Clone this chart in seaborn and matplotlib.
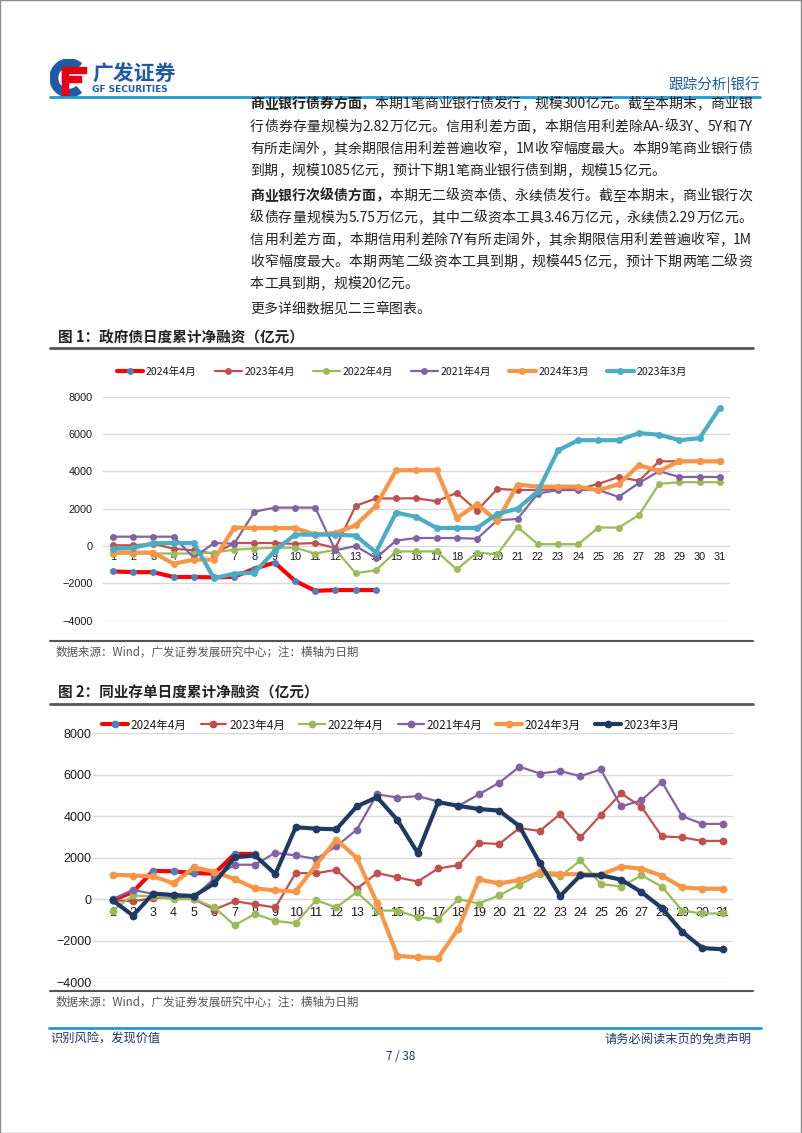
import re
import numpy as np
import pandas as pd
import seaborn as sns
import matplotlib.pyplot as plt
from matplotlib.lines import Line2D
from matplotlib.patches import Rectangle, Wedge

# ------------------- data -------------------
days = list(range(1, 32))
series_names = ["2024年4月", "2023年4月", "2022年4月", "2021年4月", "2024年3月", "2023年3月"]

# 图1 政府债日度累计净融资（亿元）
gov_2404 = [-1360, -1400, -1400, -1660, -1660, -1680, -1650, -1210, -890, -1860, -2400, -2360, -2360, -2360]
gov_2304 = [40, 40, 120, -140, -230, -420, 160, 160, 160, 120, 160, -110, 2150, 2550, 2550, 2560, 2400, 2850,
            1900, 3060, 3000, 3000, 3050, 3050, 3330, 3700, 3490, 4540, 4540, 4540, 4540]
gov_2204 = [-400, -400, -400, -400, -400, -350, -190, -140, -90, -90, -400, -200, -1450, -1300, -290, -290,
            -290, -1250, -350, -450, 1020, 100, 100, 100, 990, 990, 1660, 3330, 3420, 3420, 3420]
gov_2104 = [500, 500, 500, 500, -620, 160, 130, 1840, 2060, 2060, 2060, -230, 0, -640, 290, 430, 430, 430,
            390, 1380, 1450, 2810, 3000, 3000, 3000, 2630, 3380, 4010, 3700, 3700, 3700]
gov_2403 = [-350, -350, -350, -950, -730, -730, 990, 960, 960, 960, 620, 700, 1110, 2150, 4060, 4060, 4060,
            1500, 2240, 1320, 3290, 3180, 3180, 3180, 2990, 3310, 4330, 4020, 4540, 4540, 4540]
gov_2303 = [-140, -100, 150, 160, 160, -1720, -1480, -1430, -260, 610, 610, 610, 560, -340, 1790, 1560,
            970, 970, 970, 1720, 2000, 2930, 5120, 5670, 5670, 5670, 6050, 5960, 5670, 5780, 7410]

# 图2 同业存单日度累计净融资（亿元）
ncd_2404 = [-50, 350, 1370, 1340, 1260, 1230, 2180, 2180]
ncd_2304 = [-50, -100, 50, 100, 0, -500, -100, -250, -400, 1260, 1250, 1420, 500, 1260, 1050, 850, 1480,
            1640, 2710, 2660, 3430, 3290, 4100, 2980, 4060, 5100, 4450, 3030, 2980, 2810, 2810]
ncd_2204 = [-550, 180, 130, 0, 0, -400, -1260, -710, -1050, -1160, -50, -400, 340, -550, -550, -870, -970,
            0, -210, 180, 690, 1210, 1100, 1870, 730, 610, 1150, 610, -550, -690, -690]
ncd_2104 = [0, 450, 250, 200, 100, 1000, 1660, 1660, 2240, 2110, 1940, 2550, 3350, 5060, 4900, 4970, 4710,
            4500, 5050, 5610, 6390, 6060, 6180, 5930, 6260, 4470, 4770, 5660, 4000, 3630, 3630]
ncd_2403 = [1180, 1140, 1100, 760, 1530, 1320, 970, 520, 420, 370, 1650, 2870, 2000, -190, -2730, -2810,
            -2840, -1420, 950, 760, 920, 1300, 1210, 1200, 1180, 1570, 1470, 1130, 570, 500, 500]
ncd_2303 = [-50, -790, 270, 200, 150, 760, 2020, 2110, 1210, 3470, 3400, 3370, 4470, 4920, 3820, 2230, 4680,
            4500, 4350, 4270, 3520, 1740, 150, 1150, 1150, 940, 340, -420, -1570, -2360, -2420]

y_ticks = [-4000, -2000, 0, 2000, 4000, 6000, 8000]

# ------------------- page setup -------------------
sns.set_theme(style="white")
plt.rcParams['font.family'] = ['Noto Sans CJK SC', 'DejaVu Sans']

W, H = 802, 1133
fig = plt.figure(figsize=(W / 100, H / 100), dpi=100)
fig.patch.set_facecolor("white")
renderer = fig.canvas.get_renderer()


def fx(px):
    return px / W


def fy(py):
    return 1 - py / H


BLUE = "#1E9AD6"
DARK = "#222222"

# page border
fig.add_artist(Rectangle((0.0005, 0), 0.998, 1, transform=fig.transFigure, fill=False,
                         edgecolor="#8c8c8c", linewidth=1.0))

# header: logo (small equal-aspect axes)
lax = fig.add_axes([fx(50), fy(97), 38 / W, 38 / H])
lax.set_xlim(0, 1)
lax.set_ylim(0, 1)
lax.set_aspect("equal")
lax.axis("off")
lax.add_patch(Wedge((0.5, 0.5), 0.5, 50, 310, width=0.2, color="#1F5AA6"))
lax.add_patch(Rectangle((0.32, 0.62), 0.62, 0.16, color="#E60012"))
lax.add_patch(Rectangle((0.32, 0.40), 0.50, 0.14, color="#E60012"))
lax.add_patch(Rectangle((0.32, 0.05), 0.16, 0.73, color="#E60012"))
fig.text(fx(92), fy(74), "广发证券", fontsize=15, fontweight="bold", color="#1F5AA6", va="center")
fig.text(fx(92), fy(90), "GF SECURITIES", fontsize=6.5, fontweight="bold", color="#1F5AA6",
         va="center", family=["DejaVu Sans"])
fig.text(fx(760), fy(85), "跟踪分析|银行", fontsize=10.5, color="#1F5AA6", ha="right", va="center")
fig.add_artist(Line2D([fx(50), fx(760)], [fy(97), fy(97)], transform=fig.transFigure, color=BLUE, lw=2))

# body text
body = [
    (104, "商业银行债券方面，", "本期1笔商业银行债发行，规模300亿元。截至本期末，商业银", True),
    (127, "", "行债券存量规模为2.82万亿元。信用利差方面，本期信用利差除AA-级3Y、5Y和7Y", True),
    (149, "", "有所走阔外，其余期限信用利差普遍收窄，1M收窄幅度最大。本期9笔商业银行债", True),
    (171, "", "到期，规模1085亿元，预计下期1笔商业银行债到期，规模15亿元。", False),
    (196, "商业银行次级债方面，", "本期无二级资本债、永续债发行。截至本期末，商业银行次", True),
    (218, "", "级债存量规模为5.75万亿元，其中二级资本工具3.46万亿元，永续债2.29万亿元。", True),
    (240, "", "信用利差方面，本期信用利差除7Y有所走阔外，其余期限信用利差普遍收窄，1M", True),
    (262, "", "收窄幅度最大。本期两笔二级资本工具到期，规模445亿元，预计下期两笔二级资", True),
    (284, "", "本工具到期，规模20亿元。", False),
    (309, "", "更多详细数据见二三章图表。", False),
]


def tokens(s, weight):
    return [(t, weight) for t in re.findall(r"[A-Za-z0-9.\-]+|.", s)]


for ypx, lead, rest, justify in body:
    toks = tokens(lead, "bold") + tokens(rest, "normal")
    arts = [fig.text(0, fy(ypx), t, fontsize=10, fontweight=w, color=DARK, va="center") for t, w in toks]
    widths = [a.get_window_extent(renderer).width for a in arts]
    gap = (752 - 250 - sum(widths)) / (len(arts) - 1) if justify else 0.0
    x = 250.0
    for a, w in zip(arts, widths):
        a.set_x(fx(x))
        x += w + gap


def chart_frame(title, title_y, rule_y, source_y):
    fig.text(fx(58), fy(title_y), title, fontsize=10.5, fontweight="bold", color=DARK, va="center")
    fig.add_artist(Line2D([fx(50), fx(753)], [fy(title_y + 11), fy(title_y + 11)],
                          transform=fig.transFigure, color="#555555", lw=2))
    fig.add_artist(Line2D([fx(50), fx(753)], [fy(rule_y), fy(rule_y)],
                          transform=fig.transFigure, color="#555555", lw=1.5))
    fig.text(fx(56), fy(source_y), "数据来源：Wind，广发证券发展研究中心；注：横轴为日期",
             fontsize=8.3, color="#555555", va="center")


def draw_chart(box, xlim, series, styles, fs, ms, xpad, ypad, legend_xy, legend_fs, hl, cs):
    left, right, top, bottom = box
    ax = fig.add_axes([fx(left), fy(bottom), (right - left) / W, (bottom - top) / H])
    handles = []
    for name, vals, (lc, mc, lw) in zip(series_names, series, styles):
        df = pd.DataFrame({"day": days[:len(vals)], "value": vals})
        sns.lineplot(data=df, x="day", y="value", ax=ax, color=lc, linewidth=lw, marker="o",
                     markersize=ms, markeredgewidth=0, markerfacecolor=mc, clip_on=False)
        line = ax.lines[-1]
        line.set_markerfacecolor(mc)
        line.set_markeredgecolor(mc)
        handles.append(Line2D([], [], color=lc, lw=lw, marker="o", markersize=ms,
                              markerfacecolor=mc, markeredgewidth=0))
    ax.set_xlim(*xlim)
    ax.set_ylim(-4000, 8000)
    ax.set_yticks(y_ticks)
    ax.set_xticks(days)
    ax.set_xticklabels([str(d) for d in days])
    ax.yaxis.grid(True, color="#d9d9d9", linewidth=1)
    ax.xaxis.grid(False)
    for s in ["left", "right", "top"]:
        ax.spines[s].set_visible(False)
    ax.spines["bottom"].set_position(("data", 0))
    ax.spines["bottom"].set_color("none")
    ax.tick_params(axis="x", length=0, pad=xpad, labelsize=fs, labelcolor="#1a1a1a")
    ax.tick_params(axis="y", length=0, pad=ypad, labelsize=fs, labelcolor="#1a1a1a")
    for lab in ax.get_xticklabels() + ax.get_yticklabels():
        lab.set_family(["Liberation Sans", "DejaVu Sans"])
    ax.set_xlabel("")
    ax.set_ylabel("")
    if ax.get_legend() is not None:
        ax.get_legend().remove()
    ax.set_facecolor("none")
    leg = fig.legend(handles, series_names, ncol=6, loc="center left",
                     bbox_to_anchor=(fx(legend_xy[0]), fy(legend_xy[1])), bbox_transform=fig.transFigure,
                     frameon=False, fontsize=legend_fs, handlelength=hl, handletextpad=0.25,
                     columnspacing=cs, borderaxespad=0, borderpad=0)
    for t in leg.get_texts():
        t.set_color("#1a1a1a")
    return ax


# ------------------- chart 1 -------------------
chart_frame("图 1：政府债日度累计净融资（亿元）", 337, 641, 652)
styles1 = [("#FF0000", "#4F81BD", 3.0), ("#C0504D", "#C0504D", 1.6), ("#9BBB59", "#9BBB59", 1.6),
           ("#8064A2", "#8064A2", 1.6), ("#F79646", "#F79646", 3.0), ("#4BACC6", "#4BACC6", 3.0)]
draw_chart((102.7, 730, 396.7, 620.7), (0.5, 31.5),
           [gov_2404, gov_2304, gov_2204, gov_2104, gov_2403, gov_2303], styles1,
           fs=7.8, ms=5.0, xpad=4.5, ypad=7, legend_xy=(117, 371.5), legend_fs=7.6, hl=2.5, cs=1.75)

# ------------------- chart 2 -------------------
chart_frame("图 2：同业存单日度累计净融资（亿元）", 693, 991, 1002)
styles2 = [("#FF0000", "#4F81BD", 3.0), ("#C0504D", "#C0504D", 1.6), ("#9BBB59", "#9BBB59", 1.6),
           ("#8064A2", "#8064A2", 1.6), ("#F79646", "#F79646", 3.0), ("#1F3B63", "#1F3B63", 3.0)]
draw_chart((93.3, 733, 733.3, 982.1), (0.05, 31.5),
           [ncd_2404, ncd_2304, ncd_2204, ncd_2104, ncd_2403, ncd_2303], styles2,
           fs=9, ms=5.6, xpad=5.5, ypad=1.5, legend_xy=(102, 725), legend_fs=8.4, hl=2.2, cs=1.2)

# ------------------- footer -------------------
fig.add_artist(Line2D([fx(49), fx(761)], [fy(1028), fy(1028)], transform=fig.transFigure, color=BLUE, lw=2))
fig.text(fx(50), fy(1039), "识别风险，发现价值", fontsize=8.8, color="#1F3864", va="center")
fig.text(fx(751), fy(1039), "请务必阅读末页的免责声明", fontsize=8.8, color="#1F3864", va="center", ha="right")
fig.text(fx(401), fy(1057), "7 / 38", fontsize=8.5, color="#1F3864", va="center", ha="center")

fig.savefig("out.png", dpi=100)
